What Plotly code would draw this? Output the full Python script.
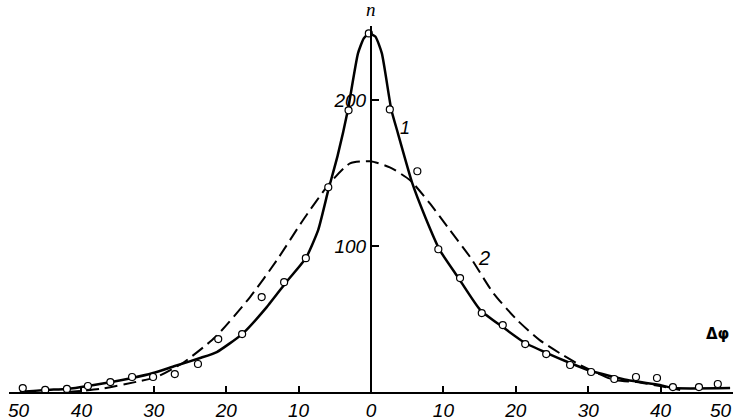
import plotly.graph_objects as go

# ---- data ----
# measured points (open circles)
pts_dphi = [-48.1, -45.0, -42.0, -39.1, -36.0, -33.0, -30.1, -27.1, -23.9, -21.1, -17.8,
            -15.1, -12.0, -9.0, -5.9, -3.1, -0.3, 2.6, 6.4, 9.3, 12.3, 15.3, 18.2, 21.3,
            24.2, 27.5, 30.4, 33.6, 36.6, 39.5, 41.7, 45.3, 47.9]
pts_n = [2.7, 1.4, 2.1, 4.1, 6.8, 10.3, 10.3, 12.3, 19.2, 36.3, 39.7,
         65.1, 75.3, 91.8, 140.4, 193.2, 245.9, 193.8, 151.4, 97.9, 78.1, 54.1, 45.9, 32.9,
         26.0, 18.5, 13.7, 8.9, 10.3, 9.6, 3.4, 3.4, 5.5]

# curve 1 (solid)
c1_dphi = [-48.5, -45.0, -42.0, -39.1, -33.0, -30.1, -27.1, -23.6, -21.3, -17.8, -14.4,
           -11.6, -9.0, -7.3, -5.9, -4.6, -3.2, -1.8, -1.0, -0.3, 0.6, 1.5, 2.8, 3.6,
           5.7, 7.5, 9.5, 12.0, 15.1, 18.2, 21.3, 24.3, 27.5, 30.4, 35.4, 39.9, 41.7, 49.6]
c1_n = [0.0, 1.4, 2.1, 4.1, 9.6, 13.0, 17.8, 23.3, 27.4, 39.7, 58.2,
        76.0, 91.8, 111.0, 138.4, 162.3, 193.2, 232.2, 242.5, 245.9, 243.8, 232.2, 193.8, 179.5,
        143.2, 119.9, 97.3, 78.8, 56.2, 44.5, 33.6, 26.7, 19.9, 14.4, 8.2, 4.8, 2.7, 2.7]

# curve 2 (dashed)
c2_dphi = [-42.0, -37.4, -31.9, -29.6, -26.0, -21.5, -16.7, -13.0, -9.4, -5.7, -2.9, -0.1,
           2.6, 5.4, 8.1, 10.9, 13.7, 16.9, 20.2, 23.3, 26.5, 28.9, 33.6, 36.7, 39.9, 42.7]
c2_n = [0.0, 2.1, 7.5, 10.3, 19.9, 37.7, 65.1, 90.4, 117.8, 143.2, 156.8, 158.2,
        154.1, 145.2, 129.5, 111.0, 92.5, 67.8, 49.3, 35.6, 25.3, 18.5, 8.2, 6.8, 4.1, 1.4]

x_ticks = [-50, -40, -30, -20, -10, 0, 10, 20, 30, 40, 50]
x_ticktext = ["", "40", "30", "20", "10", "0", "10", "20", "30", "40", ""]
y_ticks = [100, 200]
y_ticktext = ["100", "200"]

NARROW = "Liberation Sans, Arial, sans-serif"

fig = go.Figure()
fig.add_trace(go.Scatter(x=c2_dphi, y=c2_n, mode="lines",
                         line=dict(color="black", width=2, dash="13px,6px", shape="spline", smoothing=0.6),
                         hoverinfo="skip", cliponaxis=False))
fig.add_trace(go.Scatter(x=c1_dphi, y=c1_n, mode="lines",
                         line=dict(color="black", width=2.5, shape="spline", smoothing=0.5),
                         hoverinfo="skip", cliponaxis=False))
fig.add_trace(go.Scatter(x=pts_dphi, y=pts_n, mode="markers",
                         marker=dict(symbol="circle", size=7, color="white",
                                     line=dict(color="black", width=1.2)),
                         cliponaxis=False))

tickfont = dict(family=NARROW, size=19, color="black", style="italic")

fig.update_layout(
    width=739, height=420, autosize=False,
    margin=dict(l=9, r=6, t=26, b=28),
    paper_bgcolor="white", plot_bgcolor="white",
    showlegend=False,
    xaxis=dict(range=[-50, 50], showline=True, linewidth=2, linecolor="black",
               ticks="inside", ticklen=6, tickwidth=1.5, tickcolor="black",
               tickvals=x_ticks, ticktext=x_ticktext, tickfont=tickfont,
               showgrid=False, zeroline=False, fixedrange=True, automargin=False),
    yaxis=dict(range=[0, 251], anchor="free", position=0.5, showline=True, linewidth=2,
               linecolor="black", ticks="inside", ticklen=7, tickwidth=1.5, tickcolor="black",
               tickvals=y_ticks, ticktext=y_ticktext, tickfont=tickfont,
               showgrid=False, zeroline=False, fixedrange=True, automargin=False),
)

ann = [
    dict(x=-50, y=0, xref="x", yref="y", text="50", showarrow=False, xanchor="left",
         yanchor="middle", xshift=-2, yshift=-18, font=tickfont, borderpad=0),
    dict(x=50, y=0, xref="x", yref="y", text="50", showarrow=False, xanchor="right",
         yanchor="middle", xshift=0, yshift=-18, font=tickfont, borderpad=0),
    dict(x=0, y=1.044, xref="x", yref="paper", text="n", showarrow=False, yanchor="middle",
         font=dict(family="Liberation Serif, DejaVu Serif, serif", size=19, color="black", style="italic")),
    dict(x=47.8, y=40, xref="x", yref="y", text="Δφ", showarrow=False,
         font=dict(family="DejaVu Sans, Liberation Sans, sans-serif", size=15, color="black", weight="bold")),
    dict(x=4.7, y=181, xref="x", yref="y", text="1", showarrow=False,
         font=dict(family=NARROW, size=18, color="black", style="italic")),
    dict(x=15.6, y=92, xref="x", yref="y", text="2", showarrow=False,
         font=dict(family=NARROW, size=20, color="black", style="italic")),
]
fig.update_layout(annotations=ann)

fig.write_html("out.html", config={"displayModeBar": False},
               post_script="document.body.style.margin='0';document.body.style.overflow='hidden';")
